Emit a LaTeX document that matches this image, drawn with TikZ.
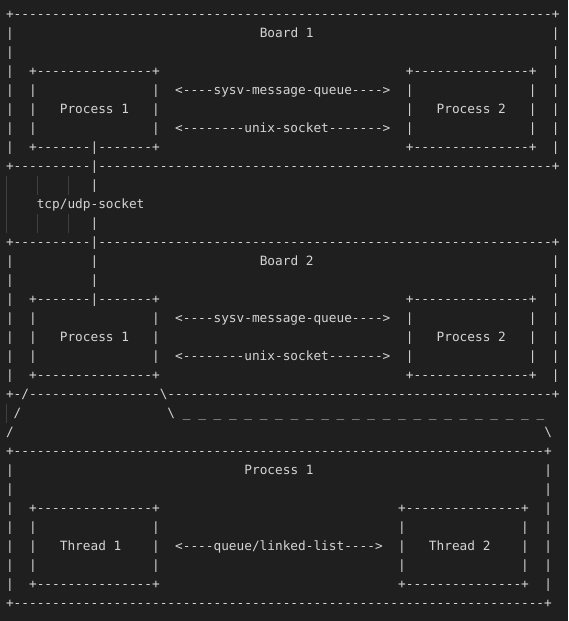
\documentclass[tikz,border=0pt]{standalone}
\usepackage{fontspec}
\setmonofont{DejaVu Sans Mono}
\usepackage{tikz}

\definecolor{editorbg}{HTML}{1F1F1F}
\definecolor{editorfg}{HTML}{D4D4D4}
\definecolor{guidegray}{HTML}{404040}

\newcommand{\dashrun}[1]{\foreach \k in {1,...,#1}{-}}

\begin{document}
\begin{tikzpicture}[x=7.69pt,y=-19pt,
    ascii/.style={anchor=base west,inner sep=0pt,outer sep=0pt,text=editorfg,
      font=\ttfamily\fontsize{12.77pt}{19pt}\selectfont},
    guide/.style={draw=guidegray,line width=1pt}]
  \fill[editorbg] (-6pt,18.4pt) rectangle (562pt,-602.6pt);
  \useasboundingbox (-6pt,18.4pt) rectangle (562pt,-602.6pt);

  % board 1
  \node[ascii] (b1top) at (0,0) {+\dashrun{70}+};
  \foreach \r in {1,...,7}{
    \node[ascii] (b1l\r) at (0,\r) {|};
    \node[ascii] (b1r\r) at (71,\r) {|};
  }
  \node[ascii] (b1title) at (33,1) {Board 1};
  \node[ascii] (b1pa) at (3,3) {+\dashrun{15}+};
  \node[ascii] (b1pb) at (52,3) {+\dashrun{15}+};
  \foreach \r in {4,5,6}{
    \node[ascii] (b1pal\r) at (3,\r) {|};
    \node[ascii] (b1par\r) at (19,\r) {|};
    \node[ascii] (b1pbl\r) at (52,\r) {|};
    \node[ascii] (b1pbr\r) at (68,\r) {|};
  }
  \node[ascii] (b1sysv) at (22,4) {<----sysv-message-queue---->};
  \node[ascii] (b1proca) at (7,5) {Process 1};
  \node[ascii] (b1procb) at (56,5) {Process 2};
  \node[ascii] (b1unix) at (22,6) {<--------unix-socket------->};
  \node[ascii] (b1pabot) at (3,7) {+\dashrun{7}|\dashrun{7}+};
  \node[ascii] (b1pbbot) at (52,7) {+\dashrun{15}+};
  \node[ascii] (b1bot) at (0,8) {+\dashrun{10}|\dashrun{59}+};

  % link between the boards
  \node[ascii] (tcpa) at (11,9) {|};
  \node[ascii] (tcp) at (4,10) {tcp/udp-socket};
  \node[ascii] (tcpb) at (11,11) {|};
  \draw[guide] (0.1,8.28) -- (0.1,11.28);
  \foreach \c in {4,8}{
    \draw[guide] (\c+0.1,8.28) -- (\c+0.1,9.28);
    \draw[guide] (\c+0.1,10.28) -- (\c+0.1,11.28);
  }

  % board 2
  \node[ascii] (b2top) at (0,12) {+\dashrun{10}|\dashrun{59}+};
  \foreach \r in {13,...,19}{
    \node[ascii] (b2l\r) at (0,\r) {|};
    \node[ascii] (b2r\r) at (71,\r) {|};
  }
  \node[ascii] (b2linka) at (11,13) {|};
  \node[ascii] (b2linkb) at (11,14) {|};
  \node[ascii] (b2title) at (33,13) {Board 2};
  \node[ascii] (b2pa) at (3,15) {+\dashrun{7}|\dashrun{7}+};
  \node[ascii] (b2pb) at (52,15) {+\dashrun{15}+};
  \foreach \r in {16,17,18}{
    \node[ascii] (b2pal\r) at (3,\r) {|};
    \node[ascii] (b2par\r) at (19,\r) {|};
    \node[ascii] (b2pbl\r) at (52,\r) {|};
    \node[ascii] (b2pbr\r) at (68,\r) {|};
  }
  \node[ascii] (b2sysv) at (22,16) {<----sysv-message-queue---->};
  \node[ascii] (b2proca) at (7,17) {Process 1};
  \node[ascii] (b2procb) at (56,17) {Process 2};
  \node[ascii] (b2unix) at (22,18) {<--------unix-socket------->};
  \node[ascii] (b2pabot) at (3,19) {+\dashrun{15}+};
  \node[ascii] (b2pbbot) at (52,19) {+\dashrun{15}+};
  \node[ascii] (b2bot) at (0,20) {+-/\dashrun{17}\textbackslash\dashrun{50}+};

  % zoom into process 1
  \node[ascii] (zla) at (1,21) {/};
  \node[ascii] (zra) at (21,21) {\textbackslash};
  \foreach \c in {23,25,...,69}
    \node[ascii] (zu\c) at (\c,21) {\_};
  \node[ascii] (zlb) at (0,22) {/};
  \node[ascii] (zrb) at (70,22) {\textbackslash};
  \draw[guide] (0.1,20.28) -- (0.1,21.28);

  % process 1
  \node[ascii] (ptop) at (0,23) {+\dashrun{69}+};
  \foreach \r in {24,...,30}{
    \node[ascii] (pl\r) at (0,\r) {|};
    \node[ascii] (pr\r) at (70,\r) {|};
  }
  \node[ascii] (ptitle) at (31,24) {Process 1};
  \node[ascii] (pta) at (3,26) {+\dashrun{15}+};
  \node[ascii] (ptb) at (51,26) {+\dashrun{15}+};
  \foreach \r in {27,28,29}{
    \node[ascii] (ptal\r) at (3,\r) {|};
    \node[ascii] (ptar\r) at (19,\r) {|};
    \node[ascii] (ptbl\r) at (51,\r) {|};
    \node[ascii] (ptbr\r) at (67,\r) {|};
  }
  \node[ascii] (thra) at (7,28) {Thread 1};
  \node[ascii] (queue) at (22,28) {<----queue/linked-list---->};
  \node[ascii] (thrb) at (55,28) {Thread 2};
  \node[ascii] (ptabot) at (3,30) {+\dashrun{15}+};
  \node[ascii] (ptbbot) at (51,30) {+\dashrun{15}+};
  \node[ascii] (pbot) at (0,31) {+\dashrun{69}+};
\end{tikzpicture}
\end{document}
